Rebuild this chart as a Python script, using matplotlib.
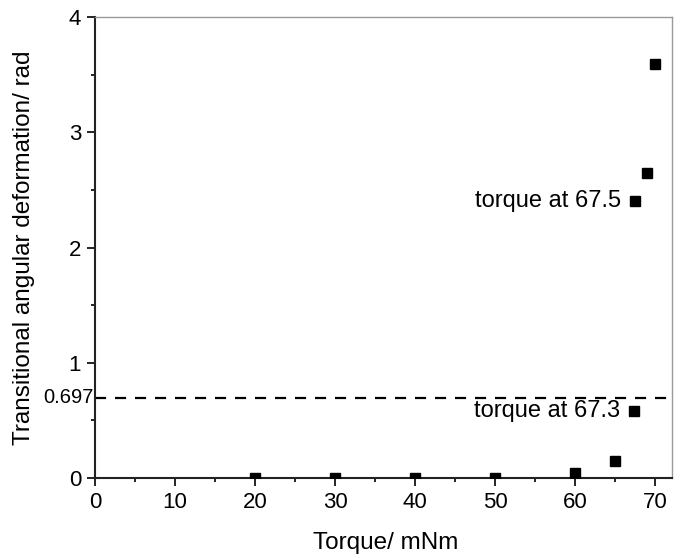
import matplotlib
matplotlib.use("Agg")
import matplotlib.pyplot as plt
from matplotlib.ticker import MultipleLocator

plt.rcParams['font.family'] = ['Liberation Sans', 'DejaVu Sans']

torque = [20, 30, 40, 50, 60, 65, 67.3, 67.5, 69, 70]
deformation = [0.0, 0.0, 0.0, 0.0, 0.04, 0.15, 0.58, 2.40, 2.65, 3.59]
threshold = 0.697
annotations = [("torque at 67.5", 67.5, 2.40), ("torque at 67.3", 67.3, 0.58)]

fig = plt.figure(figsize=(6.81, 5.58), dpi=100)
ax = fig.add_axes([0.1395, 0.1434, 0.8475, 0.8261])

ax.plot(torque, deformation, 's', color='black', ms=7, clip_on=True, zorder=3)
ax.axhline(threshold, color='black', lw=1.6, ls=(0, (5, 4)), zorder=2)

for text, x, y in annotations:
    ax.annotate(text, xy=(x, y), xytext=(-10, 0), textcoords='offset points',
                ha='right', va='center', fontsize=17)

# threshold label sits right against the axis, without a tick mark
ax.annotate(f"{threshold:g}", xy=(0, threshold), xycoords=ax.get_yaxis_transform(),
            xytext=(-1, 0), textcoords='offset points', ha='right', va='center',
            fontsize=14.5, annotation_clip=False)

ax.set_xlim(0, 72.1)
ax.set_ylim(0, 4)
ax.set_xticks([0, 10, 20, 30, 40, 50, 60, 70])
ax.xaxis.set_minor_locator(MultipleLocator(5))
ax.set_yticks([0, 1, 2, 3, 4])
ax.yaxis.set_minor_locator(MultipleLocator(0.5))

ax.tick_params(axis='both', which='major', direction='out', length=6, width=1.2, labelsize=16, pad=4)
ax.tick_params(axis='both', which='minor', direction='out', length=3, width=1.2)
ax.tick_params(top=False, right=False)

for s in ['left', 'bottom']:
    ax.spines[s].set_linewidth(1.5)
    ax.spines[s].set_color('#222222')
for s in ['top', 'right']:
    ax.spines[s].set_linewidth(1.0)
    ax.spines[s].set_color('#999999')

ax.set_xlabel('Torque/ mNm', fontsize=17.5, va='center')
ax.set_ylabel('Transitional angular deformation/ rad', fontsize=17.5, va='center')
ax.xaxis.set_label_coords(0.503, -0.141)
ax.yaxis.set_label_coords(-0.123, 0.499)

fig.savefig('out.png', dpi=100)
